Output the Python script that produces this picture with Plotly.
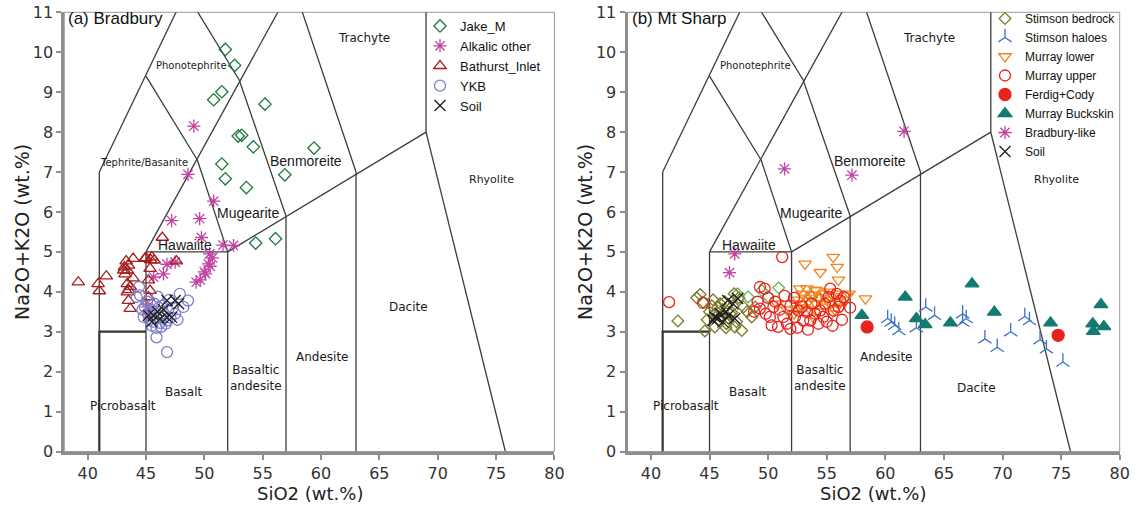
import plotly.graph_objects as go

# ---------------- Panel (a): Bradbury ----------------
jake_si = [51.8, 52.6, 51.5, 50.8, 55.2, 52.9, 53.2, 54.2, 59.4, 51.5, 56.9, 51.8, 53.6, 54.4, 56.1]
jake_alk = [10.07, 9.67, 9.01, 8.81, 8.70, 7.90, 7.92, 7.63, 7.60, 7.20, 6.93, 6.83, 6.61, 5.22, 5.33]

alkalic_si = [49.1, 48.6, 50.8, 47.2, 49.6, 49.75, 51.6, 52.5, 50.45, 50.35, 50.5, 50.1, 49.65,
              49.3, 47.5, 46.8, 46.5, 45.65, 45.1, 45.2, 50.7, 50.0]
alkalic_alk = [8.15, 6.94, 6.27, 5.78, 5.83, 5.36, 5.17, 5.16, 4.95, 4.70, 4.64, 4.45, 4.30,
               4.24, 4.74, 4.69, 4.45, 4.37, 3.62, 3.45, 4.85, 4.50]

bathurst_si = [39.2, 40.9, 41.0, 41.6, 43.3, 43.15, 43.4, 43.2, 43.5, 43.9, 45.0, 45.4, 45.7, 43.9,
               46.4, 47.6, 45.35, 43.4, 43.65, 43.5, 43.4, 43.5, 43.65, 45.2, 45.35, 45.2, 43.1,
               44.9, 45.5]
bathurst_alk = [4.24, 4.20, 4.02, 4.39, 4.77, 4.62, 4.54, 4.44, 4.66, 4.83, 4.85, 4.80, 4.79, 4.34,
                5.36, 4.77, 4.58, 4.20, 4.13, 4.05, 3.99, 3.78, 3.58, 4.29, 4.03, 3.87, 4.54,
                4.83, 4.87]

ykb_si = [44.4, 44.5, 44.8, 45.9, 46.8, 48.6, 47.9, 48.2, 45.3, 45.6, 45.9, 46.2, 46.5, 46.8, 47.1,
          45.4, 45.8, 46.1, 46.4, 46.9, 47.3, 45.2, 45.5, 45.9, 46.3, 46.7, 47.5, 44.9, 45.1, 47.0,
          46.0, 44.7, 47.7, 45.7, 44.2]
ykb_alk = [4.12, 3.91, 3.37, 2.86, 2.49, 3.78, 3.95, 3.62, 3.30, 3.25, 3.35, 3.22, 3.40, 3.28, 3.35,
           3.55, 3.50, 3.60, 3.65, 3.52, 3.60, 3.42, 3.15, 3.10, 3.12, 3.20, 3.45, 3.62, 3.75, 3.80,
           3.88, 3.55, 3.30, 3.70, 3.87]

soil_a_si = [46.8, 47.5, 47.8, 45.2, 45.65, 46.2, 46.8, 47.2, 45.5, 46.0, 46.5]
soil_a_alk = [3.78, 3.78, 3.70, 3.41, 3.41, 3.32, 3.36, 3.36, 3.25, 3.50, 3.55]

# ---------------- Panel (b): Mt Sharp ----------------
stimson_si = [42.3, 44.2, 44.6, 44.45, 45.45, 45.9, 46.45, 46.75, 47.15, 47.75, 47.9, 48.6, 45.5,
              45.8, 46.1, 46.6, 47.0, 45.0, 45.3, 46.0, 47.3, 45.7, 46.3, 46.9, 47.5, 44.8, 48.2,
              47.1, 45.2, 46.4, 43.9, 48.9, 53.7, 54.4]
stimson_alk = [3.27, 3.93, 3.02, 3.74, 3.12, 3.70, 3.20, 3.45, 3.12, 3.03, 3.62, 3.37, 3.45,
               3.30, 3.55, 3.35, 3.65, 3.50, 3.80, 3.40, 3.25, 3.60, 3.75, 3.48, 3.85, 3.30, 3.50,
               3.95, 3.65, 3.10, 3.85, 3.62, 3.87, 3.83]

stimson_light_si = [47.4, 48.3, 50.9, 50.0, 49.45]
stimson_light_alk = [3.95, 3.87, 4.10, 3.88, 4.03]

haloes_si = [60.2, 60.5, 60.8, 61.15, 63.45, 64.2, 62.65, 66.6, 66.9, 66.6, 68.5, 69.55, 70.7,
             71.9, 72.3, 73.2, 73.75, 75.15]
haloes_alk = [3.33, 3.24, 3.16, 3.03, 3.62, 3.41, 3.10, 3.45, 3.33, 3.24, 2.82, 2.61, 3.00,
              3.38, 3.28, 2.80, 2.57, 2.24]

mlower_si = [53.15, 54.45, 55.55, 55.9, 56.0, 56.9, 58.3, 53.3, 54.15, 50.75, 52.75,
             52.9, 53.2, 53.5, 53.8, 54.1, 54.4, 54.7, 55.0, 55.3, 55.6, 55.9, 56.2, 56.5,
             53.0, 53.6, 54.2, 54.8, 55.4, 56.0, 52.6, 54.0, 55.2, 56.7, 53.9, 55.7, 51.6,
             52.2, 52.7, 52.4]
mlower_alk = [4.70, 4.49, 4.87, 4.62, 4.30, 3.95, 3.83, 4.08, 4.03, 3.70, 3.70,
              3.95, 3.85, 3.78, 3.92, 3.70, 3.85, 3.95, 3.80, 3.70, 3.88, 3.75, 3.62, 3.80,
              3.60, 3.55, 3.50, 3.62, 3.45, 3.95, 3.80, 4.05, 4.00, 3.90, 3.35, 3.55, 3.55,
              3.45, 4.08, 3.58]

mupper_si = [41.55, 44.45, 51.2, 49.3, 49.7, 49.3, 50.45, 50.15, 50.3, 50.85, 51.3, 51.6, 51.9,
             52.3, 52.6, 53.0, 53.3, 53.6, 54.0, 54.45, 54.85, 55.15, 55.3, 55.85, 56.15, 56.45,
             56.0, 55.6, 54.7, 49.8, 50.6, 51.0, 51.9, 52.2, 52.9, 53.7, 54.3, 55.0, 55.5, 56.3,
             50.0, 51.4, 52.5, 53.4, 48.8, 49.1, 57.0]
mupper_alk = [3.74, 3.72, 4.87, 4.12, 4.08, 3.58, 3.62, 3.37, 3.16, 3.12, 3.37, 3.20, 3.07,
              3.37, 3.53, 3.28, 3.49, 3.28, 3.45, 3.53, 3.70, 3.87, 4.08, 3.95, 3.78, 3.87,
              3.62, 3.53, 3.37, 3.45, 3.75, 3.55, 3.65, 3.85, 3.62, 3.70, 3.20, 3.25, 3.15, 3.30,
              3.85, 3.90, 3.10, 3.05, 3.50, 3.75, 3.60]

ferdig_si = [58.45, 74.75]
ferdig_alk = [3.12, 2.91]

buckskin_si = [58.0, 61.7, 62.65, 63.4, 65.55, 67.4, 69.3, 74.1, 78.4, 77.7, 77.75, 78.65]
buckskin_alk = [3.41, 3.87, 3.33, 3.18, 3.22, 4.20, 3.49, 3.22, 3.68, 3.20, 3.01, 3.13]

bradlike_si = [61.6, 51.4, 57.15, 47.15, 46.7]
bradlike_alk = [8.02, 7.08, 6.92, 4.95, 4.48]

soil_b_si = [45.45, 45.7, 45.9, 45.3, 46.55, 47.0, 47.4, 47.15, 46.15, 46.4, 46.6]
soil_b_alk = [3.37, 3.33, 3.45, 3.28, 3.78, 3.70, 3.83, 3.33, 3.24, 3.50, 3.40]

# ---------------- TAS field boundaries (Le Bas et al.) ----------------
tas_thin = [
    [(41, 3), (41, 7)],
    [(41, 7), (52.5, 14)],
    [(45, 3), (45, 5)],
    [(45, 5), (61, 13.5)],
    [(45, 5), (52, 5)],
    [(52, 5), (69, 8)],
    [(49.4, 7.3), (52, 5)],
    [(52, 0), (52, 5)],
    [(48.4, 11.5), (53, 9.3), (57, 5.9)],
    [(57, 0), (57, 5.9)],
    [(52.5, 14), (57.6, 11.7), (63, 7)],
    [(63, 0), (63, 7)],
    [(69, 8), (69, 12)],
    [(45, 9.4), (49.4, 7.3)],
    [(69, 8), (75.8, 0)],
    [(45, 0), (45, 3)],
]
tas_thick = [
    [(41, 0), (41, 3), (45, 3)],
]

# field labels: (text, SiO2, alkali, font size, family)
lbl_small = "DejaVu Sans"
lbl_helv = "Liberation Sans"
fields_common = [
    ("Phonotephrite", 48.9, 9.68, 10, lbl_small),
    ("Trachyte", 63.7, 10.35, 12, lbl_small),
    ("Benmoreite", 58.7, 7.27, 14, lbl_helv),
    ("Mugearite", 53.7, 5.98, 14, lbl_helv),
    ("Hawaiite", 48.35, 5.18, 14, lbl_helv),
    ("Rhyolite", 74.6, 6.8, 11, lbl_small),
    ("Andesite", 60.1, 2.36, 12, lbl_small),
    ("Basaltic<br>andesite", 54.4, 1.85, 12, lbl_small),
    ("Basalt", 48.3, 1.5, 12, lbl_small),
    ("Picrobasalt", 43.0, 1.13, 12, lbl_small),
]
fields_a_only = [
    ("Tephrite/Basanite", 44.8, 7.25, 10, lbl_small),
    ("Dacite", 67.5, 3.63, 12, lbl_small),
]
fields_b_only = [
    ("Dacite", 67.8, 1.6, 12, lbl_small),
]

LINE_COL = "#3c3c3c"
AX_COL = "#8e8e8e"
W, H = 1138, 505
ya_dom = [1 - 451.5 / H, 1 - 12.3 / H]
xa_dom = [64.3 / W, 554.4 / W]
xb_dom = [627.5 / W, 1119.7 / W]

fig = go.Figure()


def add_boundaries(xref, yref):
    for seg in tas_thin:
        fig.add_trace(go.Scatter(
            x=[p[0] for p in seg], y=[p[1] for p in seg], mode="lines",
            line=dict(color=LINE_COL, width=1.3), showlegend=False, hoverinfo="skip",
            xaxis=xref, yaxis=yref))
    for seg in tas_thick:
        fig.add_trace(go.Scatter(
            x=[p[0] for p in seg], y=[p[1] for p in seg], mode="lines",
            line=dict(color="#333333", width=2.2), showlegend=False, hoverinfo="skip",
            xaxis=xref, yaxis=yref))


def add_series(xs, ys, name, symbol, color, size, xref, yref, legend, lw=1.3, show=True):
    fig.add_trace(go.Scatter(
        x=xs, y=ys, mode="markers", name=name, showlegend=show, legend=legend,
        marker=dict(symbol=symbol, size=size, color=color,
                    line=dict(color=color, width=lw)),
        xaxis=xref, yaxis=yref))


add_boundaries("x", "y")
add_boundaries("x2", "y2")

# panel (a) series
add_series(jake_si, jake_alk, "Jake_M", "diamond-open", "#1d7a3d", 9.5, "x", "y", "legend")
add_series(alkalic_si, alkalic_alk, "Alkalic other", "asterisk-open", "#c245a3", 11, "x", "y", "legend")
add_series(bathurst_si, bathurst_alk, "Bathurst_Inlet", "triangle-up-open", "#a71d1d", 11, "x", "y", "legend")
add_series(ykb_si, ykb_alk, "YKB", "circle-open", "#7a7fc9", 11, "x", "y", "legend")
add_series(soil_a_si, soil_a_alk, "Soil", "x-thin-open", "#1e1e1e", 11, "x", "y", "legend")

# panel (b) series
add_series(stimson_light_si, stimson_light_alk, "Stimson (light)", "diamond-open", "#63b55a", 9,
           "x2", "y2", "legend2", show=False)
add_series(stimson_si, stimson_alk, "Stimson bedrock", "diamond-open", "#7b7a2b", 9, "x2", "y2", "legend2")
add_series(haloes_si, haloes_alk, "Stimson haloes", "y-up-open", "#3f70c6", 11, "x2", "y2", "legend2")
add_series(mlower_si, mlower_alk, "Murray lower", "triangle-down-open", "#f5821f", 11, "x2", "y2", "legend2")
add_series(mupper_si, mupper_alk, "Murray upper", "circle-open", "#e8231e", 11, "x2", "y2", "legend2")
add_series(ferdig_si, ferdig_alk, "Ferdig+Cody", "circle", "#e8231e", 12, "x2", "y2", "legend2")
add_series(buckskin_si, buckskin_alk, "Murray Buckskin", "triangle-up", "#147a72", 12, "x2", "y2", "legend2")
add_series(bradlike_si, bradlike_alk, "Bradbury-like", "asterisk-open", "#c245a3", 11, "x2", "y2", "legend2")
add_series(soil_b_si, soil_b_alk, "Soil", "x-thin-open", "#1e1e1e", 11, "x2", "y2", "legend2")

tick_font = dict(family="DejaVu Sans", size=16, color="#333333")
xaxis_common = dict(range=[38, 80], tickvals=[40, 45, 50, 55, 60, 65, 70, 75, 80],
                    showgrid=False, zeroline=False, showline=True, linewidth=3, linecolor=AX_COL,
                    ticks="outside", ticklen=5, tickwidth=2, tickcolor=AX_COL,
                    tickfont=tick_font, fixedrange=True, automargin=False)
yaxis_common = dict(range=[0, 11], tickvals=list(range(0, 12)), domain=ya_dom,
                    showgrid=False, zeroline=False, showline=True, linewidth=3, linecolor=AX_COL,
                    ticks="outside", ticklen=5, tickwidth=2, tickcolor=AX_COL,
                    tickfont=tick_font, fixedrange=True, automargin=False)

fig.update_layout(
    width=W, height=H, autosize=False,
    margin=dict(l=0, r=0, t=0, b=0, pad=0),
    paper_bgcolor="white", plot_bgcolor="white",
    xaxis=dict(domain=xa_dom, anchor="y", **xaxis_common),
    yaxis=dict(anchor="x", **yaxis_common),
    xaxis2=dict(domain=xb_dom, anchor="y2", **xaxis_common),
    yaxis2=dict(anchor="x2", **yaxis_common),
    legend=dict(x=420 / W, y=1 - 11 / H, xanchor="left", yanchor="top",
                bgcolor="rgba(0,0,0,0)", font=dict(family="Liberation Sans", size=13, color="#111"),
                tracegroupgap=0, itemwidth=30),
    legend2=dict(x=985 / W, y=1 - 4 / H, xanchor="left", yanchor="top",
                 bgcolor="rgba(0,0,0,0)", font=dict(family="Liberation Sans", size=12, color="#111"),
                 tracegroupgap=0, itemwidth=30),
    showlegend=True,
)

# thin frame on top and right of each panel
for xr, yr in (("x", "y"), ("x2", "y2")):
    fig.add_shape(type="rect", xref=f"{xr} domain", yref=f"{yr} domain", x0=0, y0=0, x1=1, y1=1,
                  line=dict(color="#9a9a9a", width=1), layer="below")


def add_labels(fields, xref, yref):
    for text, sx, sy, fs, fam in fields:
        fig.add_annotation(x=sx, y=sy, xref=xref, yref=yref, text=text, showarrow=False,
                           font=dict(family=fam, size=fs, color="#1a1a1a"), align="center")


add_labels(fields_common + fields_a_only, "x", "y")
add_labels(fields_common + fields_b_only, "x2", "y2")

# panel titles
fig.add_annotation(x=66 / W, y=1 - 18 / H, xref="paper", yref="paper", text="(a) Bradbury",
                   showarrow=False, xanchor="left", yanchor="middle",
                   font=dict(family="Liberation Sans", size=17, color="#111"))
fig.add_annotation(x=630 / W, y=1 - 18 / H, xref="paper", yref="paper", text="(b) Mt Sharp",
                   showarrow=False, xanchor="left", yanchor="middle",
                   font=dict(family="Liberation Sans", size=17, color="#111"))

# axis titles
for cx in (310, 873):
    fig.add_annotation(x=cx / W, y=1 - 493 / H, xref="paper", yref="paper", text="SiO2 (wt.%)",
                       showarrow=False, xanchor="center", yanchor="middle",
                       font=dict(family="DejaVu Sans", size=18, color="#222"))
for cx in (22, 585):
    fig.add_annotation(x=cx / W, y=1 - 232 / H, xref="paper", yref="paper", text="Na2O+K2O (wt.%)",
                       showarrow=False, xanchor="center", yanchor="middle", textangle=-90,
                       font=dict(family="DejaVu Sans", size=19, color="#222"))

# page without body margin so the figure fills the window exactly
fig.write_html("out.html", post_script="document.body.style.margin='0px';")
